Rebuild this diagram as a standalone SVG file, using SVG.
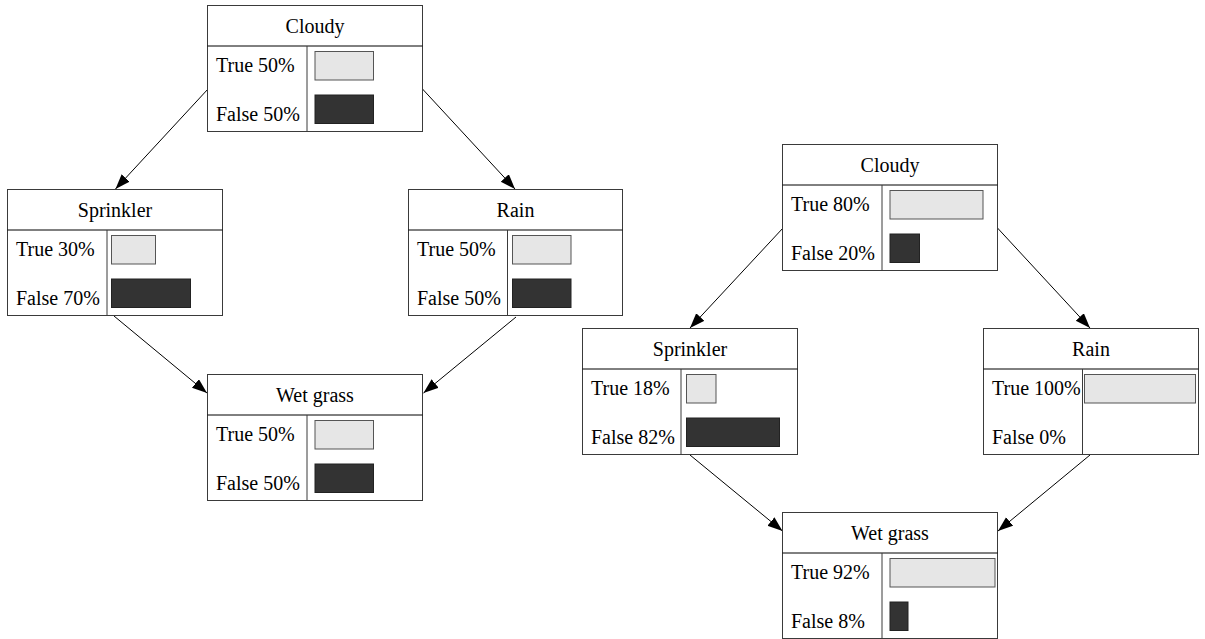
<svg xmlns="http://www.w3.org/2000/svg" width="1205" height="639" viewBox="0 0 1205 639">
  <style>
    .box { fill: #ffffff; stroke: #3a3a3a; stroke-width: 1; }
    .sep { stroke: #000000; stroke-width: 1; }
    .col { stroke: #3a3a3a; stroke-width: 1; }
    .title { font-family: "Liberation Serif", "Times New Roman", serif; font-size: 20px; fill: #000; text-anchor: middle; }
    .lbl { font-family: "Liberation Serif", "Times New Roman", serif; font-size: 20px; fill: #000; }
    .bar-t { fill: #e6e6e6; stroke: #555555; stroke-width: 1; }
    .bar-f { fill: #333333; stroke: #222222; stroke-width: 1; }
    .edge { stroke: #000000; stroke-width: 1; fill: none; marker-end: url(#head); }
  </style>
  <defs>
    <marker id="head" markerUnits="userSpaceOnUse" markerWidth="16" markerHeight="12" refX="15" refY="5.5" orient="auto">
      <path d="M0,0 L15,5.5 L0,11 Z" fill="#000"/>
    </marker>
  </defs>
  <rect width="1205" height="639" fill="#ffffff"/>

  <!-- connectors -->
  <g id="edges">
    <line class="edge" x1="208" y1="89" x2="115.5" y2="189"/>
    <line class="edge" x1="422.5" y1="89" x2="515" y2="189"/>
    <line class="edge" x1="114" y1="316" x2="207" y2="393"/>
    <line class="edge" x1="516" y1="317" x2="423.5" y2="393"/>
    <line class="edge" x1="783" y1="228" x2="690" y2="328"/>
    <line class="edge" x1="997.5" y1="228" x2="1090" y2="328"/>
    <line class="edge" x1="690" y1="455" x2="782.5" y2="531"/>
    <line class="edge" x1="1090" y1="455" x2="998" y2="531"/>
  </g>

  <!-- network before evidence -->
  <g id="cloudy1" transform="translate(207.5,5.5)">
    <rect class="box" x="0" y="0" width="215" height="126"/>
    <line class="sep" x1="0" y1="40.5" x2="215" y2="40.5"/>
    <line class="col" x1="99.5" y1="40.5" x2="99.5" y2="126"/>
    <text class="title" x="107.5" y="27">Cloudy</text>
    <text class="lbl" x="8.5" y="66.5">True 50%</text>
    <text class="lbl" x="8.5" y="115">False 50%</text>
    <rect class="bar-t" x="107.5" y="46" width="58.5" height="28.5"/>
    <rect class="bar-f" x="107.5" y="89.5" width="58.5" height="28.5"/>
  </g>

  <g id="sprinkler1" transform="translate(7.5,189.5)">
    <rect class="box" x="0" y="0" width="215" height="126"/>
    <line class="sep" x1="0" y1="40.5" x2="215" y2="40.5"/>
    <line class="col" x1="99.5" y1="40.5" x2="99.5" y2="126"/>
    <text class="title" x="107.5" y="27">Sprinkler</text>
    <text class="lbl" x="8.5" y="66.5">True 30%</text>
    <text class="lbl" x="8.5" y="115">False 70%</text>
    <rect class="bar-t" x="104" y="46" width="44" height="28.5"/>
    <rect class="bar-f" x="104" y="89.5" width="79" height="28.5"/>
  </g>

  <g id="rain1" transform="translate(408.5,189.5)">
    <rect class="box" x="0" y="0" width="214" height="126"/>
    <line class="sep" x1="0" y1="40.5" x2="214" y2="40.5"/>
    <line class="col" x1="99" y1="40.5" x2="99" y2="126"/>
    <text class="title" x="107" y="27">Rain</text>
    <text class="lbl" x="8.5" y="66.5">True 50%</text>
    <text class="lbl" x="8.5" y="115">False 50%</text>
    <rect class="bar-t" x="104" y="46" width="58.5" height="28.5"/>
    <rect class="bar-f" x="104" y="89.5" width="58.5" height="28.5"/>
  </g>

  <g id="wetgrass1" transform="translate(207.5,374.5)">
    <rect class="box" x="0" y="0" width="215" height="126"/>
    <line class="sep" x1="0" y1="40.5" x2="215" y2="40.5"/>
    <line class="col" x1="99.5" y1="40.5" x2="99.5" y2="126"/>
    <text class="title" x="107.5" y="27">Wet grass</text>
    <text class="lbl" x="8.5" y="66.5">True 50%</text>
    <text class="lbl" x="8.5" y="115">False 50%</text>
    <rect class="bar-t" x="107.5" y="46" width="58.5" height="28.5"/>
    <rect class="bar-f" x="107.5" y="89.5" width="58.5" height="28.5"/>
  </g>

  <!-- network after evidence -->
  <g id="cloudy2" transform="translate(782.5,144.5)">
    <rect class="box" x="0" y="0" width="215" height="126"/>
    <line class="sep" x1="0" y1="40.5" x2="215" y2="40.5"/>
    <line class="col" x1="99.5" y1="40.5" x2="99.5" y2="126"/>
    <text class="title" x="107.5" y="27">Cloudy</text>
    <text class="lbl" x="8.5" y="66.5">True 80%</text>
    <text class="lbl" x="8.5" y="115">False 20%</text>
    <rect class="bar-t" x="107.5" y="46" width="93" height="28.5"/>
    <rect class="bar-f" x="107.5" y="89.5" width="29.5" height="28.5"/>
  </g>

  <g id="sprinkler2" transform="translate(582.5,328.5)">
    <rect class="box" x="0" y="0" width="215" height="126"/>
    <line class="sep" x1="0" y1="40.5" x2="215" y2="40.5"/>
    <line class="col" x1="98.5" y1="40.5" x2="98.5" y2="126"/>
    <text class="title" x="107.5" y="27">Sprinkler</text>
    <text class="lbl" x="8.5" y="66.5">True 18%</text>
    <text class="lbl" x="8.5" y="115">False 82%</text>
    <rect class="bar-t" x="104" y="46" width="29.5" height="28.5"/>
    <rect class="bar-f" x="104" y="89.5" width="93" height="28.5"/>
  </g>

  <g id="rain2" transform="translate(983.5,328.5)">
    <rect class="box" x="0" y="0" width="215" height="126"/>
    <line class="sep" x1="0" y1="40.5" x2="215" y2="40.5"/>
    <line class="col" x1="99" y1="40.5" x2="99" y2="126"/>
    <text class="title" x="107.5" y="27">Rain</text>
    <text class="lbl" x="8.5" y="66.5">True 100%</text>
    <text class="lbl" x="8.5" y="115">False 0%</text>
    <rect class="bar-t" x="101" y="46" width="111" height="28.5"/>
  </g>

  <g id="wetgrass2" transform="translate(782.5,512.5)">
    <rect class="box" x="0" y="0" width="215" height="126"/>
    <line class="sep" x1="0" y1="40.5" x2="215" y2="40.5"/>
    <line class="col" x1="99.5" y1="40.5" x2="99.5" y2="126"/>
    <text class="title" x="107.5" y="27">Wet grass</text>
    <text class="lbl" x="8.5" y="66.5">True 92%</text>
    <text class="lbl" x="8.5" y="115">False 8%</text>
    <rect class="bar-t" x="107.5" y="46" width="105" height="28.5"/>
    <rect class="bar-f" x="107.5" y="89.5" width="18" height="28.5"/>
  </g>
</svg>
